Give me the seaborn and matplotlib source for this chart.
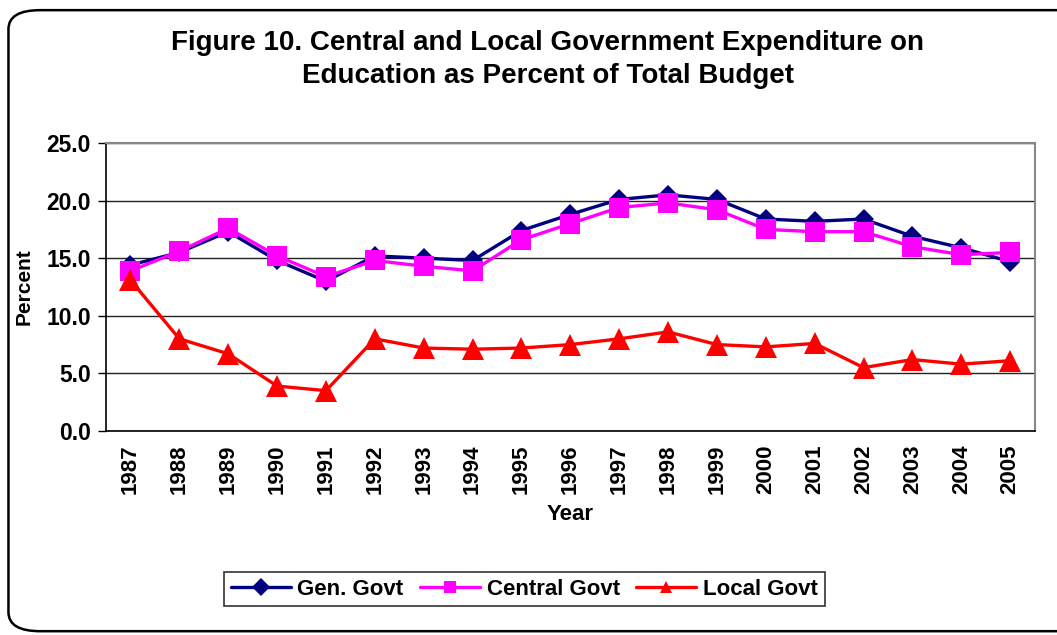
import numpy as np
import pandas as pd
import matplotlib
matplotlib.use('Agg')
import matplotlib.pyplot as plt
import seaborn as sns
from matplotlib.lines import Line2D
from matplotlib.patches import FancyBboxPatch

# 数据
years = [str(y) for y in range(1987, 2006)]
gen_govt = [14.4, 15.5, 17.3, 14.8, 13.0, 15.2, 15.0, 14.8, 17.4, 18.8,
            20.1, 20.5, 20.1, 18.4, 18.2, 18.4, 16.9, 15.9, 14.7]
central_govt = [13.9, 15.6, 17.6, 15.2, 13.4, 14.8, 14.3, 13.9, 16.6, 18.0,
                19.4, 19.8, 19.2, 17.5, 17.3, 17.3, 16.0, 15.3, 15.5]
local_govt = [13.1, 8.0, 6.7, 3.9, 3.5, 8.0, 7.2, 7.1, 7.2, 7.5,
              8.0, 8.6, 7.5, 7.3, 7.6, 5.5, 6.2, 5.8, 6.1]
series_names = ['Gen. Govt', 'Central Govt', 'Local Govt']
yticks = [0, 5, 10, 15, 20, 25]

colors = {'Gen. Govt': '#000080', 'Central Govt': '#FF00FF', 'Local Govt': '#FF0000'}
markers = {'Gen. Govt': 'D', 'Central Govt': 's', 'Local Govt': '^'}
msizes = {'Gen. Govt': 10, 'Central Govt': 14, 'Local Govt': 16}

sns.set_style('white')
plt.rcParams['font.family'] = ['Liberation Sans', 'DejaVu Sans']
plt.rcParams['font.weight'] = 'bold'
plt.rcParams['text.color'] = 'black'
plt.rcParams['axes.labelcolor'] = 'black'
plt.rcParams['xtick.color'] = 'black'
plt.rcParams['ytick.color'] = 'black'

df = pd.DataFrame({'pos': np.arange(len(years)),
                   'Gen. Govt': gen_govt,
                   'Central Govt': central_govt,
                   'Local Govt': local_govt})

fig = plt.figure(figsize=(10.57, 6.35), dpi=100)
ax = fig.add_axes([0.1003, 0.3213, 0.8785, 0.4535])

for name in series_names:
    sns.lineplot(data=df, x='pos', y=name, ax=ax, color=colors[name],
                 marker=markers[name], markersize=msizes[name],
                 markeredgewidth=0, linewidth=2.4, legend=False)

ax.set_xlim(-0.5, len(years) - 0.5)
ax.set_ylim(0, 25)
ax.set_yticks(yticks)
ax.set_yticklabels(['{:.1f}'.format(v) for v in yticks], fontsize=16.5, fontweight='bold')
ax.set_xticks(np.arange(len(years)))
ax.set_xticklabels(years, rotation=90, fontsize=16, fontweight='bold')
ax.set_xticks(np.arange(len(years) + 1) - 0.5, minor=True)
ax.tick_params(axis='x', which='major', length=0, pad=10)
ax.tick_params(axis='x', which='minor', length=6, width=1, color='black', direction='out')
ax.tick_params(axis='y', length=6, width=1, color='black', direction='out', left=True, pad=5)

ax.yaxis.grid(True, color='#222222', linewidth=1)
ax.xaxis.grid(False)
ax.set_axisbelow(True)
for s in ['left', 'bottom']:
    ax.spines[s].set_color('black')
    ax.spines[s].set_linewidth(1.2)
for s in ['top', 'right']:
    ax.spines[s].set_color('#888888')
    ax.spines[s].set_linewidth(1.5)

ax.set_xlabel('Year', fontsize=16, fontweight='bold', labelpad=7)
ax.set_ylabel('Percent', fontsize=15, fontweight='bold', labelpad=9)

fig.text(0.518, 0.906, 'Figure 10. Central and Local Government Expenditure on\nEducation as Percent of Total Budget',
         ha='center', va='center', fontsize=20, fontweight='bold', linespacing=1.36)

handles = [Line2D([0], [0], color=colors[n], marker=markers[n], markersize=9,
                  markeredgewidth=0, linewidth=2.4) for n in series_names]
leg = fig.legend(handles, series_names, loc='center', bbox_to_anchor=(0.496, 0.072),
                 ncol=3, frameon=True, fancybox=False, edgecolor='black',
                 prop={'weight': 'bold', 'size': 16}, handlelength=2.7,
                 columnspacing=0.75, handletextpad=0.3, borderpad=0.3)
leg.get_frame().set_linewidth(1.2)

# 外框
border = FancyBboxPatch((0.008, 0.006), 1.05, 0.978, boxstyle='round,pad=0,rounding_size=0.03',
                        transform=fig.transFigure, facecolor='none', edgecolor='black',
                        linewidth=1.8, clip_on=False)
fig.patches.append(border)

fig.savefig('out.png', dpi=100)
